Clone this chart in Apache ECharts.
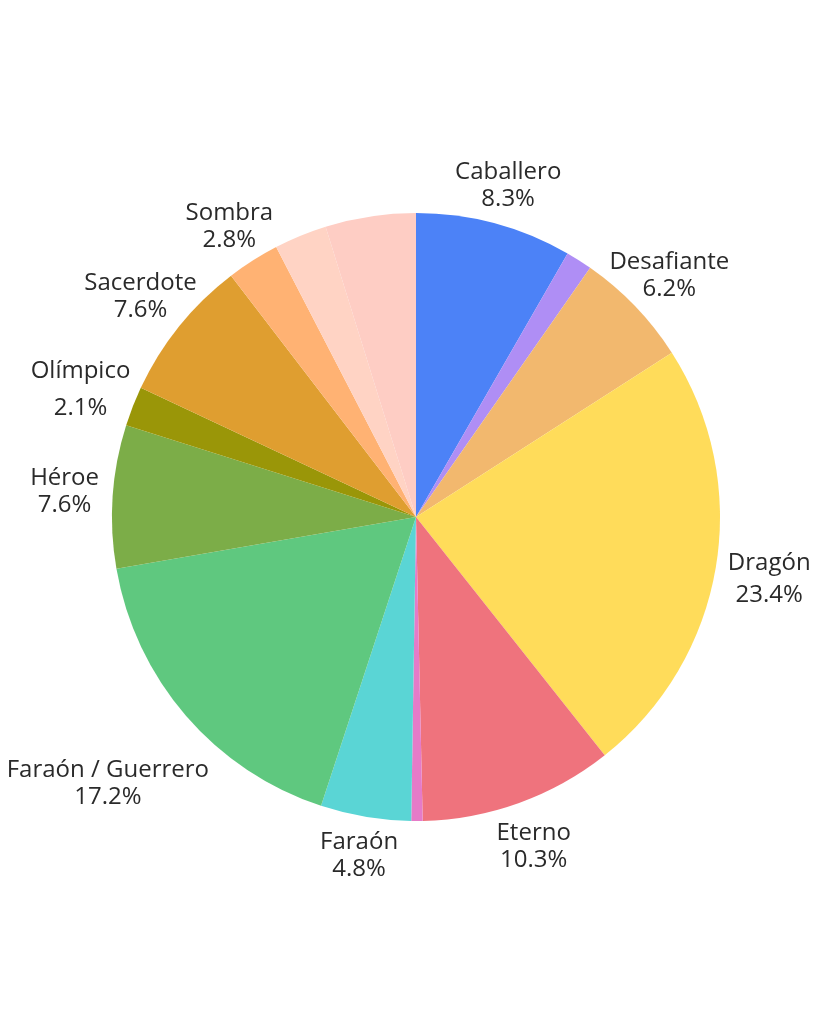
<!DOCTYPE html>
<html>
<head>
<meta charset="utf-8">
<script src="https://cdn.jsdelivr.net/npm/echarts@6/dist/echarts.min.js"></script>
<style>
html,body{margin:0;padding:0;background:#fff;}
#chart{width:819px;height:1024px;}
</style>
</head>
<body>
<div id="chart"></div>
<script>
// Data (clockwise from 12 o'clock)
const categories = ['Caballero', 'Otro A', 'Desafiante', 'Dragón', 'Eterno', 'Otro B', 'Faraón',
  'Faraón / Guerrero', 'Héroe', 'Olímpico', 'Sacerdote', 'Sombra', 'Otro C', 'Otro D'];
const values = [8.3, 1.4, 6.2, 23.4, 10.3, 0.6, 4.8, 17.2, 7.6, 2.1, 7.6, 2.8, 2.8, 4.8];
const showLabel = [true, false, true, true, true, false, true, true, true, true, true, true, false, false];
const colors = ['#4C82F7', '#AF8EF5', '#F2B86E', '#FFDC5A', '#EF737D', '#E57BC8', '#5AD5D5',
  '#5FC87F', '#7CAD48', '#9A9608', '#DF9E30', '#FFB273', '#FFD3C4', '#FECDC4'];

const CX = 416, CY = 517, R = 304;
// small hand nudges of label text (pixels) to mimic the reference's label placement
const labelNudge = { 'Desafiante': [-10, -2], 'Dragón': [0, 3], 'Eterno': [2, 7], 'Faraón / Guerrero': [0, 41], 'Sacerdote': [7, -3], 'Olímpico': [2, 0] };
const tallLabel = { 'Olímpico': 37, 'Dragón': 32 };

const total = values.reduce((a, b) => a + b, 0);
const midAngles = [];
let acc = 0;
values.forEach(v => { midAngles.push((acc + v / 2) / total * 2 * Math.PI); acc += v; });

const chart = echarts.init(document.getElementById('chart'));
chart.setOption({
  backgroundColor: '#fff',
  animation: false,
  series: [{
    type: 'pie',
    center: [CX, CY],
    radius: [0, R],
    startAngle: 90,
    clockwise: true,
    avoidLabelOverlap: false,
    emphasis: { disabled: true },
    itemStyle: { borderWidth: 0 },
    label: {
      show: true,
      position: 'outside',
      fontFamily: 'Open Sans',
      fontSize: 24,
      lineHeight: 27,
      color: '#2a2a2a',
      formatter: p => p.name + '\n' + p.value.toFixed(1) + '%'
    },
    labelLine: { show: false },
    labelLayout: function (params) {
      const i = params.dataIndex;
      const a = midAngles[i];
      const s = Math.sin(a), c = Math.cos(a);
      const hw = params.labelRect.width / 2;
      const hh = 27;
      const px = CX + R * s, py = CY - R * c;
      const ox = Math.sign(s) * (hw * Math.abs(s) + 14 * Math.pow(s, 8));
      const oy = -Math.sign(c) * (hh * Math.abs(c) + 12 * Math.sqrt(Math.abs(c)));
      const n = labelNudge[categories[i]] || [0, 0];
      return { x: px + ox + n[0], y: py + oy + n[1], align: 'center', verticalAlign: 'middle' };
    },
    data: categories.map((name, i) => ({
      name: name,
      value: values[i],
      itemStyle: { color: colors[i] },
      label: Object.assign({ show: showLabel[i] }, tallLabel[name] ? { lineHeight: tallLabel[name] } : {})
    }))
  }]
});
</script>
</body>
</html>
